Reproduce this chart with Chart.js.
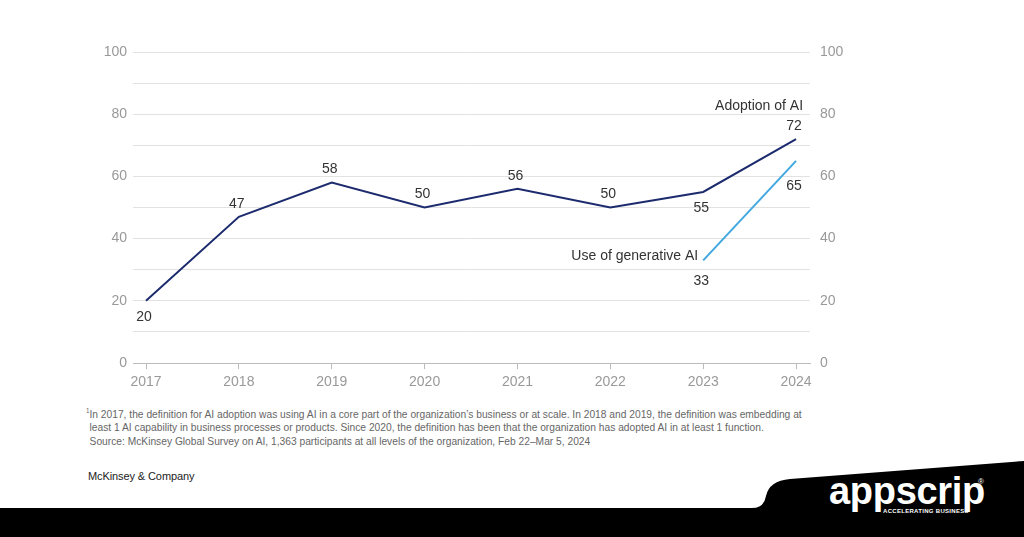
<!DOCTYPE html>
<html><head><meta charset="utf-8">
<script src="https://cdn.jsdelivr.net/npm/chart.js@4.4.1/dist/chart.umd.min.js"></script>
<style>
html,body{margin:0;padding:0;background:#fff;width:1024px;height:537px;overflow:hidden;font-family:"Liberation Sans",Arial,sans-serif;}
#wrap{position:absolute;left:0;top:0;width:1024px;height:400px;}
#note{position:absolute;left:86px;top:404px;font-family:"Liberation Sans",Arial,sans-serif;font-size:11.5px;line-height:13.5px;color:#666;white-space:nowrap;transform:scaleX(0.89);transform-origin:0 0;}
#note div{padding-left:4px}
#note div.f{padding-left:0}
#mck{position:absolute;left:88px;top:470px;font-size:11px;color:#222;letter-spacing:-0.1px;}
#band{position:absolute;left:0;top:0;}
#logo{position:absolute;left:829px;top:472px;color:#fff;font-family:"Liberation Sans",Arial,sans-serif;font-weight:bold;font-size:38px;letter-spacing:-0.3px;line-height:38px;}
#tag{position:absolute;left:883px;top:508px;color:#fff;font-size:6px;font-weight:bold;letter-spacing:0.3px;}
#reg{position:absolute;left:978px;top:477px;color:#fff;font-size:8px;}
</style></head>
<body>
<svg id="band" width="1024" height="537"><path d="M0,508 L752,508 Q764,508 766,496 Q769,481 790,479 L1024,461 L1024,537 L0,537 Z" fill="#000"/></svg>
<div id="wrap"><canvas id="c" width="1024" height="400"></canvas></div>
<div id="note">
<div class="f"><sup style="font-size:7px">1</sup>In 2017, the definition for AI adoption was using AI in a core part of the organization’s business or at scale. In 2018 and 2019, the definition was embedding at</div>
<div>least 1 AI capability in business processes or products. Since 2020, the definition has been that the organization has adopted AI in at least 1 function.</div>
<div>Source: McKinsey Global Survey on AI, 1,363 participants at all levels of the organization, Feb 22–Mar 5, 2024</div>
</div>
<div id="mck">McKinsey &amp; Company</div>
<div id="logo">appscrip</div>
<div id="tag">ACCELERATING BUSINESS</div>
<div id="reg">®</div>
<script>
const years = [2017, 2018, 2019, 2020, 2021, 2022, 2023, 2024];
const adoption = [20, 47, 58, 50, 56, 50, 55, 72];
const genAIYears = [2023, 2024];
const genAI = [33, 65];
const adoptionLabelPos = ['below','above','above','above','above','above','below','above'];
const seriesNames = ['Adoption of AI', 'Use of generative AI'];
const yTicks = [0, 20, 40, 60, 80, 100];
const yGrid = [0, 10, 20, 30, 40, 50, 60, 70, 80, 90, 100];

const labelPlugin = {
  id: 'labels',
  afterDatasetsDraw(chart) {
    const ctx = chart.ctx;
    const xs = chart.scales.x, ys = chart.scales.y;
    ctx.save();
    ctx.font = '14px "Liberation Sans", Arial, sans-serif';
    ctx.fillStyle = '#333';
    ctx.textAlign = 'center';
    ctx.textBaseline = 'middle';
    adoption.forEach((v, i) => {
      const x = xs.getPixelForValue(years[i]);
      const y = ys.getPixelForValue(v);
      ctx.fillText(String(v), x - 2, adoptionLabelPos[i] === 'above' ? y - 13 : y + 16);
    });
    genAI.forEach((v, i) => {
      const x = xs.getPixelForValue(genAIYears[i]);
      const y = ys.getPixelForValue(v);
      ctx.fillText(String(v), x - 2, i === 0 ? y + 21 : y + 25);
    });
    ctx.textAlign = 'right';
    ctx.fillText(seriesNames[0], xs.getPixelForValue(2024) + 7, ys.getPixelForValue(72) - 33);
    ctx.fillText(seriesNames[1], xs.getPixelForValue(2023) - 5, ys.getPixelForValue(33) - 4);
    ctx.restore();
  }
};

new Chart(document.getElementById('c'), {
  type: 'line',
  data: {
    datasets: [
      { label: seriesNames[0], data: years.map((y, i) => ({x: y, y: adoption[i]})), borderColor: '#1c2b6e', borderWidth: 2, pointRadius: 0, tension: 0, yAxisID: 'y' },
      { label: seriesNames[1], data: genAIYears.map((y, i) => ({x: y, y: genAI[i]})), borderColor: '#42a8e0', borderWidth: 2, pointRadius: 0, tension: 0, yAxisID: 'y' }
    ]
  },
  options: {
    responsive: false,
    animation: false,
    layout: { padding: { top: 52, left: 0, right: 0, bottom: 0 } },
    plugins: { legend: { display: false }, tooltip: { enabled: false } },
    scales: {
      x: {
        type: 'linear',
        min: 2016.86, max: 2024.15,
        afterBuildTicks: (s) => { s.ticks = years.map(v => ({value: v})); },
        afterFit: (s) => { s.height = 37; },
        grid: { drawOnChartArea: false, drawTicks: true, tickLength: 6, color: '#bbb' },
        border: { display: true, color: '#bbb', width: 1 },
        ticks: { color: '#999', font: { size: 14, family: '"Liberation Sans", Arial, sans-serif' }, padding: 5, maxRotation: 0, callback: v => String(v) }
      },
      y: {
        position: 'left', min: 0, max: 100,
        afterBuildTicks: (s) => { s.ticks = yGrid.map(v => ({value: v})); },
        afterFit: (s) => { s.width = 133; },
        grid: { color: '#e2e2e2', drawTicks: false },
        border: { display: false },
        ticks: { color: '#999', padding: 6, font: { size: 14, family: '"Liberation Sans", Arial, sans-serif' }, callback: v => yTicks.includes(v) ? String(v) : '' }
      },
      y2: {
        position: 'right', min: 0, max: 100,
        afterBuildTicks: (s) => { s.ticks = yTicks.map(v => ({value: v})); },
        afterFit: (s) => { s.width = 214; },
        grid: { display: false, drawTicks: false },
        border: { display: false },
        ticks: { color: '#999', padding: 10, font: { size: 14, family: '"Liberation Sans", Arial, sans-serif' }, callback: v => String(v) }
      }
    }
  },
  plugins: [labelPlugin]
});
</script>
</body></html>
